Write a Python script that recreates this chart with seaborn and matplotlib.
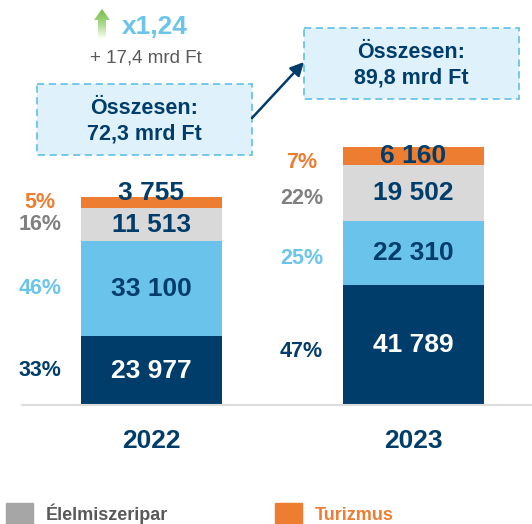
import numpy as np
import pandas as pd
import seaborn as sns
import matplotlib.pyplot as plt
from matplotlib.patches import Patch, Polygon, Rectangle
from matplotlib.colors import LinearSegmentedColormap

# data (million Ft)
years = ["2022", "2023"]
seg_dark = [23977, 41789]
seg_light = [33100, 22310]
food = [11513, 19502]
tourism = [3755, 6160]

NAVY = "#003D6B"
LIGHT = "#69C3EA"
GREY = "#D9D9D9"
ORANGE = "#ED7D31"
PCT_COLORS = [NAVY, "#6BC4EA", "#808080", ORANGE]
SEG_COLORS = [NAVY, LIGHT, GREY, ORANGE]

layers = [seg_dark, seg_light, food, tourism]
cum = np.cumsum(np.array(layers), axis=0)
totals = cum[-1]


def fmt(v):
    return f"{v:,}".replace(",", " ")


sns.set_theme(style="white")
plt.rcParams["font.family"] = ["Liberation Sans", "DejaVu Sans"]

W, H = 532, 524
fig = plt.figure(figsize=(W / 100, H / 100), dpi=100)
base_px = 405
ax = fig.add_axes([0, (H - base_px) / H, 1, base_px / H])

# stacked bars: draw cumulative totals from the top layer down
for i in range(len(layers) - 1, -1, -1):
    sns.barplot(x=years, y=cum[i], color=SEG_COLORS[i], width=0.538,
                saturation=1, linewidth=0, errorbar=None, ax=ax)

px_per_unit = 2.871 / 1000
ax.set_ylim(0, base_px / px_per_unit)
ax.set_xlim(-151.5 / 262, (W - 151.5) / 262)
ax.set_yticks([])
for s in ["top", "left", "right"]:
    ax.spines[s].set_visible(False)
ax.spines["bottom"].set_color("#DDDDDD")
ax.spines["bottom"].set_linewidth(1.5)
ax.spines["bottom"].set_bounds(-151.5 / 262 + 22 / 262, (W - 151.5) / 262)
ax.tick_params(axis="x", length=0, pad=17)
ax.set_xticks(range(len(years)))
ax.set_xticklabels(years, fontsize=19, fontweight="bold", color=NAVY)
ax.set_xlabel("")

# value and share labels
thin = 14 / px_per_unit  # segments thinner than ~14 px get the label lifted
for j in range(len(years)):
    for i, vals in enumerate(layers):
        lo = cum[i - 1][j] if i > 0 else 0
        mid = lo + vals[j] / 2
        y_val = cum[i][j] + 4 / px_per_unit if vals[j] < thin else mid
        ax.text(j, y_val, fmt(vals[j]), ha="center", va="center",
                fontsize=19, fontweight="bold",
                color="white" if i == 0 else NAVY)
        share = round(100 * vals[j] / totals[j])
        ax.text(j - 0.427, mid - 6 / px_per_unit * j, f"{share}%", ha="center", va="center",
                fontsize=15.5, fontweight="bold", color=PCT_COLORS[i])

# overlay in pixel coordinates for callouts
ov = fig.add_axes([0, 0, 1, 1])
ov.set_xlim(0, W)
ov.set_ylim(H, 0)
ov.axis("off")

# green gradient arrow
arrow_pts = [(102, 9), (110, 20), (106, 20), (106, 39), (98, 39), (98, 20), (94, 20)]
poly = Polygon(arrow_pts, closed=True, facecolor="none", edgecolor="none")
ov.add_patch(poly)
grad = np.linspace(0, 1, 100).reshape(-1, 1)
cmap = LinearSegmentedColormap.from_list("g", ["#74BF44", "#A9D98A", "#FFFFFF"])
img = ov.imshow(grad, extent=[94, 110, 39, 9], cmap=cmap, aspect="auto")
img.set_clip_path(poly)
ov.set_xlim(0, W)
ov.set_ylim(H, 0)

ratio = totals[1] / totals[0]
diff = (totals[1] - totals[0]) / 1000
ov.text(155, 27, f"x{ratio:.2f}".replace(".", ","), ha="center", va="center",
        fontsize=19, fontweight="bold", color="#6BC4EA")
ov.text(146, 58, f"+ {diff:.1f} mrd Ft".replace(".", ","), ha="center", va="center",
        fontsize=13.5, color="#595959")

boxes = [(37, 84, 215, 71), (304, 28, 215, 71)]
for (bx, by, bw, bh), t in zip(boxes, totals):
    ov.add_patch(Rectangle((bx, by), bw, bh, facecolor="#DFF2FB", edgecolor="#6BC4EA",
                           lw=1.3, linestyle=(0, (4, 2.5))))
    label = f"Összesen:\n{t / 1000:.1f} mrd Ft".replace(".", ",")
    ov.text(bx + bw / 2, by + bh / 2 + 1.5, label, ha="center", va="center",
            fontsize=15.5, fontweight="bold", color=NAVY, linespacing=1.3)

ov.annotate("", xy=(304, 62), xytext=(252, 118),
            arrowprops=dict(arrowstyle="-|>", color=NAVY, lw=1.8,
                            mutation_scale=20, shrinkA=0, shrinkB=0))

# legend (bottom row sits at the lower edge, as in the source)
handles = [Patch(color="#A6A6A6"), Patch(color=ORANGE)]
leg = fig.legend(handles, ["Élelmiszeripar", "Turizmus"], loc="upper left",
                 bbox_to_anchor=(6 / W, 1 - 503 / H), ncol=2, frameon=False,
                 borderpad=0, borderaxespad=0, handlelength=1.5, handleheight=1.5,
                 handletextpad=0.72, columnspacing=5.9,
                 prop=dict(weight="bold", size=13))
for txt, c in zip(leg.get_texts(), ["#595959", ORANGE]):
    txt.set_color(c)

fig.savefig("out.png", dpi=100)
